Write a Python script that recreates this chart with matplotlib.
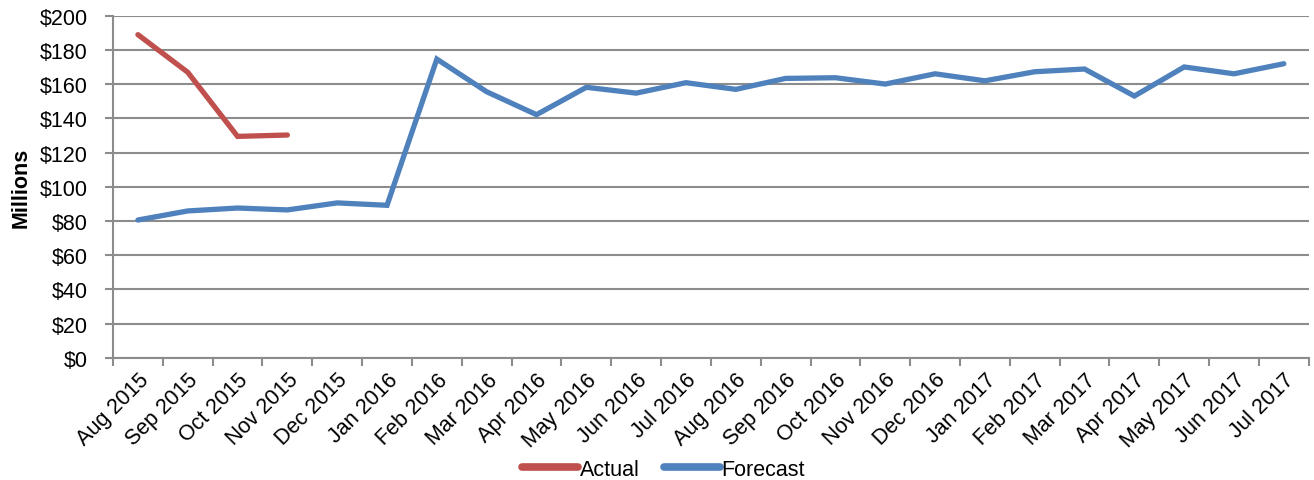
import matplotlib.pyplot as plt
import numpy as np
from matplotlib.ticker import FixedLocator, FuncFormatter

plt.rcParams["font.family"] = ["Liberation Sans", "DejaVu Sans"]

months = [
    "Aug 2015", "Sep 2015", "Oct 2015", "Nov 2015", "Dec 2015", "Jan 2016",
    "Feb 2016", "Mar 2016", "Apr 2016", "May 2016", "Jun 2016", "Jul 2016",
    "Aug 2016", "Sep 2016", "Oct 2016", "Nov 2016", "Dec 2016", "Jan 2017",
    "Feb 2017", "Mar 2017", "Apr 2017", "May 2017", "Jun 2017", "Jul 2017",
]
actual = [189, 167, 129.5, 130.3]
forecast = [
    80.6, 85.9, 87.6, 86.5, 90.6, 89.2,
    174.7, 155.6, 142.2, 158.2, 154.8, 160.9,
    157.0, 163.4, 163.8, 160.1, 166.1, 162.0,
    167.3, 168.9, 153.1, 170.1, 166.1, 172.0,
]

RED = "#C0504D"
BLUE = "#4F81BD"
GRID = "#8C8C8C"
FS = 15.5

fig = plt.figure(figsize=(13.14, 4.81), dpi=100)
ax = fig.add_axes([0.086, 0.254, 0.910, 0.711])

x = np.arange(len(months))
ax.plot(x[: len(actual)], actual, color=RED, linewidth=3.8,
        solid_capstyle="round", solid_joinstyle="miter", label="Actual", zorder=3)
ax.plot(x, forecast, color=BLUE, linewidth=3.8,
        solid_capstyle="round", solid_joinstyle="miter", label="Forecast", zorder=3)

ax.set_xlim(-0.5, len(months) - 0.5)
ax.set_ylim(0, 200)
ax.set_yticks(np.arange(0, 201, 20))
ax.yaxis.set_major_formatter(FuncFormatter(lambda v, _: f"${v:.0f}"))
ax.grid(axis="y", color=GRID, linewidth=1.5)
ax.set_axisbelow(True)

# category boundary ticks, labels centred on categories
ax.xaxis.set_major_locator(FixedLocator(np.arange(-0.5, len(months), 1.0)))
ax.xaxis.set_major_formatter(FuncFormatter(lambda v, _: ""))
ax.xaxis.set_minor_locator(FixedLocator(x))
ax.set_xticklabels(months, minor=True, rotation=45, ha="right",
                   rotation_mode="anchor", fontsize=FS)
ax.tick_params(axis="x", which="minor", length=0, pad=8)
ax.tick_params(axis="x", which="major", length=6, width=1.5, color=GRID)
ax.tick_params(axis="y", length=6, width=1.5, color=GRID, labelsize=FS, pad=12)

for side in ("top", "right"):
    ax.spines[side].set_visible(False)
for side in ("left", "bottom"):
    ax.spines[side].set_color(GRID)
    ax.spines[side].set_linewidth(1.5)

ax.set_ylabel("Millions", fontsize=FS, fontweight="bold", labelpad=6)

leg = fig.legend(loc="lower center", bbox_to_anchor=(0.505, -0.04), ncol=2,
                 frameon=False, fontsize=FS, handlelength=2.6, handletextpad=0.08,
                 columnspacing=1.1)
for line in leg.get_lines():
    line.set_linewidth(5.5)

fig.savefig("out.png", dpi=100)
